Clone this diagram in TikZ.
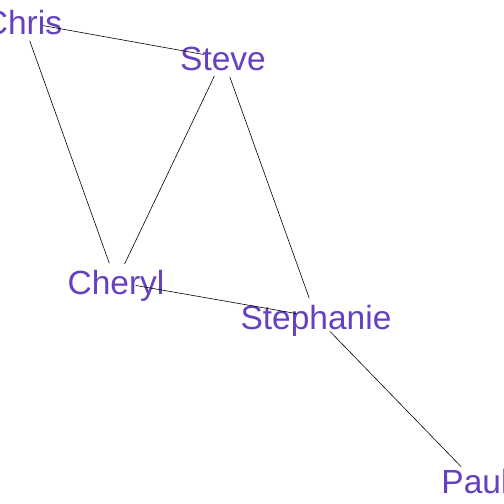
\documentclass[tikz,border=0pt]{standalone}
\usepackage{fontspec}
\setmainfont{Liberation Sans}
\definecolor{vname}{RGB}{102,64,192}
\tikzset{
  vlabel/.style={text=vname, inner sep=0pt, text height=24pt, text depth=0pt,
    font=\fontsize{33.5}{40}\selectfont},
  tie/.style={draw=black, line width=0.6pt, shorten >=20pt, shorten <=20pt}
}

\begin{document}
\begin{tikzpicture}[x=1pt,y=-1pt]
\useasboundingbox (0,0) rectangle (504,504);
\node[vlabel] (chris) at (23,22) {Chris};
\node[vlabel] (steve) at (223,58) {Steve};
\node[vlabel] (cheryl) at (116,282) {Cheryl};
\node[vlabel] (steph) at (316,317) {Stephanie};
\node[vlabel] (paul) at (475,481) {Paul};
\path[tie]
  (chris.center) edge (steve.center)
  (chris.center) edge (cheryl.center)
  (steve.center) edge (cheryl.center)
  (steve.center) edge (steph.center)
  (cheryl.center) edge (steph.center)
  (steph.center) edge (paul.center);
\end{tikzpicture}
\end{document}
